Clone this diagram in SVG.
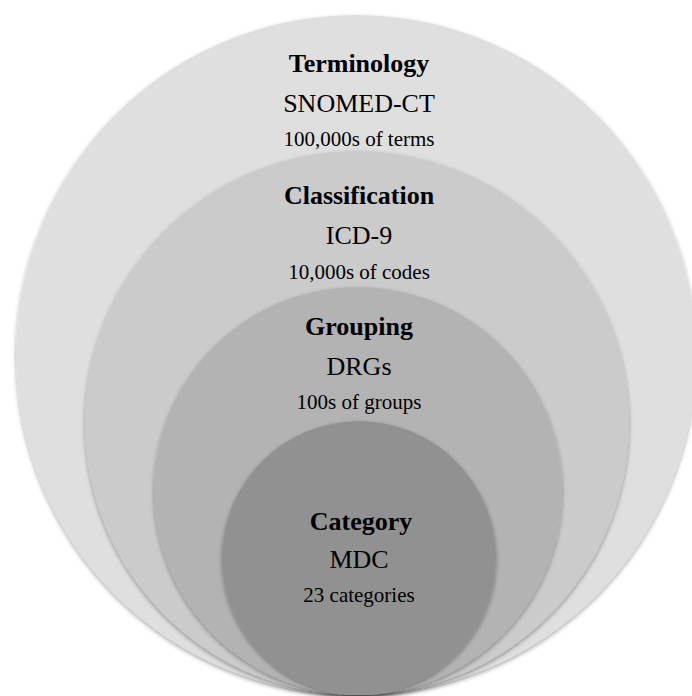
<svg xmlns="http://www.w3.org/2000/svg" width="692" height="696" viewBox="0 0 692 696">
<defs>
<filter id="sh" x="-10%" y="-10%" width="120%" height="120%">
<feDropShadow dx="0" dy="2" stdDeviation="2" flood-color="#000" flood-opacity="0.35"/>
</filter>
</defs>
<style>
.c{filter:url(#sh);}
text{font-family:"Liberation Serif","Times New Roman",serif;fill:#000;text-anchor:middle;}
.t{font-weight:bold;font-size:26px;}
.s{font-size:26px;}
.n{font-size:21px;}
</style>
<rect width="692" height="696" fill="#fff"/>
<g id="terminology">
<circle class="c" cx="356" cy="355" r="340" fill="#dfdfdf"/>
<text class="t" x="359" y="72">Terminology</text>
<text class="s" x="359" y="112">SNOMED-CT</text>
<text class="n" x="359" y="146">100,000s of terms</text>
</g>
<g id="classification">
<circle class="c" cx="357" cy="423" r="272" fill="#cbcbcb"/>
<text class="t" x="359" y="204">Classification</text>
<text class="s" x="359" y="244">ICD-9</text>
<text class="n" x="359" y="279">10,000s of codes</text>
</g>
<g id="grouping">
<circle class="c" cx="358" cy="491" r="204" fill="#b3b3b3"/>
<text class="t" x="359" y="335">Grouping</text>
<text class="s" x="359" y="375">DRGs</text>
<text class="n" x="359" y="409">100s of groups</text>
</g>
<g id="category">
<circle class="c" cx="359" cy="558" r="137" fill="#919191"/>
<text class="t" x="361" y="530">Category</text>
<text class="s" x="359" y="568">MDC</text>
<text class="n" x="359" y="602">23 categories</text>
</g>
<g id="connectors"/>
</svg>
